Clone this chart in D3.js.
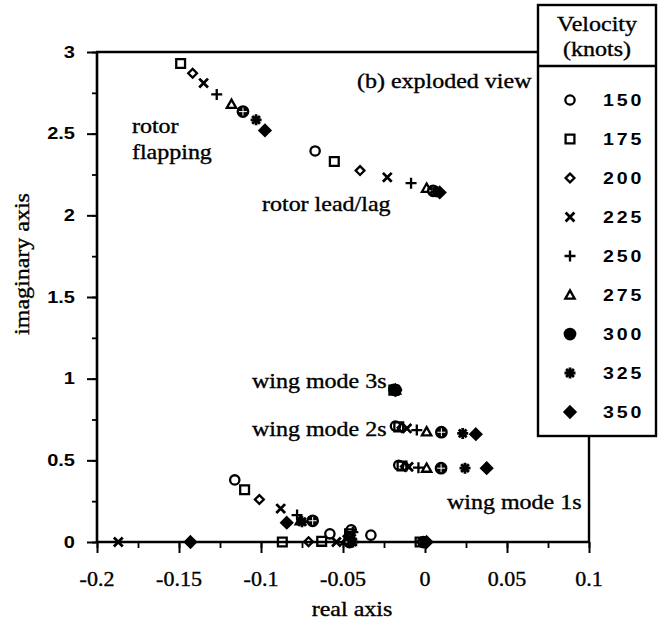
<!DOCTYPE html>
<html><head><meta charset="utf-8">
<script src="https://cdn.jsdelivr.net/npm/d3@7"></script>
<style>body{margin:0;background:#fff}svg{display:block}</style>
</head><body>
<svg id="c" width="661" height="627"></svg>
<script>
// ---- data ----
const velocities = [150,175,200,225,250,275,300,325,350];
const symbolNames = ["circle","square","diamond","x","plus","triangle","dot","asterisk","fdiamond"];
const xTicks = [-0.2,-0.15,-0.1,-0.05,0,0.05,0.1];
const xTickLabels = ["-0.2","-0.15","-0.1","-0.05","0","0.05","0.1"];
const yTicks = [0,0.5,1,1.5,2,2.5,3];
const yTickLabels = ["0","0.5","1","1.5","2","2.5","3"];
// points per velocity: [real, imag]
const v150 = [[-0.067,2.394],[-0.019,0.935],[-0.018,0.71],[-0.016,0.47],[-0.116,0.38],[-0.058,0.05],[-0.033,0.042],[-0.045,0.075]];
const v175 = [[-0.149,2.93],[-0.0553,2.33],[-0.019,0.93],[-0.016,0.705],[-0.014,0.465],[-0.110,0.32],[-0.087,0.0],[-0.063,0.004],[-0.046,0.05],[-0.003,0.0]];
const v200 = [[-0.1417,2.87],[-0.0396,2.274],[-0.018,0.93],[-0.014,0.70],[-0.012,0.462],[-0.101,0.26],[-0.071,0.002],[-0.047,0.035]];
const v225 = [[-0.135,2.81],[-0.023,2.233],[-0.018,0.928],[-0.011,0.695],[-0.010,0.46],[-0.088,0.205],[-0.187,0.0],[-0.054,0.0],[-0.045,0.02]];
const v250 = [[-0.127,2.74],[-0.0085,2.197],[-0.018,0.928],[-0.005,0.685],[-0.004,0.455],[-0.078,0.165],[-0.047,0.0],[-0.044,0.06]];
const v275 = [[-0.118,2.68],[0.001,2.166],[-0.018,0.93],[0.001,0.675],[0.001,0.452],[-0.076,0.13],[-0.048,0.01]];
const v300 = [[-0.111,2.635],[0.005,2.15],[-0.018,0.93],[0.010,0.672],[0.0098,0.452],[-0.0685,0.13],[-0.001,0.0],[-0.046,0.0]];
const v325 = [[-0.103,2.585],[0.007,2.145],[-0.018,0.93],[0.023,0.665],[0.0244,0.452],[-0.075,0.124],[0.0,0.0],[-0.044,0.0]];
const v350 = [[-0.0976,2.52],[0.009,2.14],[-0.018,0.93],[0.031,0.66],[0.0376,0.452],[-0.0843,0.118],[-0.143,0.0],[0.001,0.0]];
const seriesPoints = [v150,v175,v200,v225,v250,v275,v300,v325,v350];
const annotations = [
  {text:"rotor", x:-0.1787, y:2.55},
  {text:"flapping", x:-0.1787, y:2.39},
  {text:"rotor lead/lag", x:-0.0994, y:2.07},
  {text:"(b) exploded view", x:-0.0415, y:2.82},
  {text:"wing mode 3s", x:-0.1055, y:0.985},
  {text:"wing mode 2s", x:-0.1055, y:0.69},
  {text:"wing mode 1s", x:0.0134, y:0.245}
];

// ---- drawing ----
const svg = d3.select("#c");
const x = d3.scaleLinear().domain([-0.2,0.1]).range([97,589]);
const y = d3.scaleLinear().domain([0,3]).range([542,52]);
const SERIF = "'Liberation Serif','Times New Roman',serif";
const SANS = "'Liberation Sans',Arial,sans-serif";

function sym(name, s){
  const p = d3.path();
  const r = s/2;
  switch(name){
    case "circle": p.arc(0,0,r*0.85,0,2*Math.PI); break;
    case "square": p.rect(-r*0.8,-r*0.8,r*1.6,r*1.6); break;
    case "diamond": p.moveTo(0,-r*0.8);p.lineTo(r*0.8,0);p.lineTo(0,r*0.8);p.lineTo(-r*0.8,0);p.closePath(); break;
    case "fdiamond": p.moveTo(0,-r);p.lineTo(r,0);p.lineTo(0,r);p.lineTo(-r,0);p.closePath(); break;
    case "x": p.moveTo(-r*0.8,-r*0.8);p.lineTo(r*0.8,r*0.8);p.moveTo(r*0.8,-r*0.8);p.lineTo(-r*0.8,r*0.8); break;
    case "plus": p.moveTo(-r,0);p.lineTo(r,0);p.moveTo(0,-r);p.lineTo(0,r); break;
    case "triangle": p.moveTo(0,-r*0.85);p.lineTo(r*0.85,r*0.65);p.lineTo(-r*0.85,r*0.65);p.closePath(); break;
    case "dot": p.arc(0,0,r*0.95,0,2*Math.PI); break;
    case "asterisk": for(let i=0;i<4;i++){const a=i*Math.PI/4;p.moveTo(-r*Math.cos(a),-r*Math.sin(a));p.lineTo(r*Math.cos(a),r*Math.sin(a));} break;
  }
  return p.toString();
}
function styleSym(sel, name){
  const filled = (name==="dot"||name==="fdiamond");
  sel.attr("fill", filled?"#000":"none")
     .attr("stroke","#000")
     .attr("stroke-width", name==="asterisk"?2.8:(name==="x"?2.8:2.3))
     .attr("stroke-linejoin","miter");
}
// horizontally stretched text helper
function stext(g, tx, ty, str, opts){
  const t = g.append("text")
    .attr("transform",`translate(${tx},${ty}) scale(${opts.sx||1},1)`)
    .attr("font-family",opts.family).attr("font-size",opts.size)
    .attr("text-anchor",opts.anchor||"start").attr("fill","#000").text(str);
  if(opts.weight) t.attr("font-weight",opts.weight);
  if(opts.ls) t.attr("letter-spacing",opts.ls);
  if(opts.dy) t.attr("dy",opts.dy);
  if(opts.heavy) t.attr("stroke","#000").attr("stroke-width",0.35);
  return t;
}

// x axis ticks
const gx = svg.append("g").attr("transform","translate(0,542)");
gx.call(d3.axisBottom(x).tickValues(d3.range(-0.2,0.1001,0.025)).tickSize(6).tickFormat(""));
gx.selectAll(".tick line").attr("stroke-width",1.8);
const gx2 = svg.append("g").attr("transform","translate(0,542)");
gx2.call(d3.axisBottom(x).tickValues(xTicks).tickSize(11).tickFormat(""));
gx2.selectAll(".tick line").attr("stroke-width",2);
svg.selectAll(".domain").remove();
xTicks.forEach((v,i)=>stext(svg, x(v), 586, xTickLabels[i], {family:SERIF,size:20,sx:1.1,anchor:"middle",heavy:true}));

// y axis ticks
const gy = svg.append("g").attr("transform","translate(97,0)");
gy.call(d3.axisLeft(y).tickValues(d3.range(0,3.001,0.25)).tickSize(5).tickFormat(""));
gy.selectAll(".tick line").attr("stroke-width",1.8);
const gy2 = svg.append("g").attr("transform","translate(97,0)");
gy2.call(d3.axisLeft(y).tickValues(yTicks).tickSize(10).tickFormat(""));
gy2.selectAll(".tick line").attr("stroke-width",2);
svg.selectAll(".domain").remove();
yTicks.forEach((v,i)=>stext(svg, 75, y(v), yTickLabels[i], {family:SANS,size:16,sx:1.25,anchor:"end",weight:"bold",dy:"0.36em"}));

// frame lines
const legendX = 538, legendW = 118, legendTop = 5, legendBottom = 436;
svg.append("line").attr("x1",x(-0.2)).attr("x2",x(0.1)).attr("y1",y(0)).attr("y2",y(0)).attr("stroke","#000").attr("stroke-width",2.6);
svg.append("line").attr("x1",x(-0.2)).attr("x2",x(-0.2)).attr("y1",y(0)).attr("y2",y(3)).attr("stroke","#000").attr("stroke-width",2.6);
svg.append("line").attr("x1",x(-0.2)-1).attr("x2",legendX).attr("y1",y(3)).attr("y2",y(3)).attr("stroke","#000").attr("stroke-width",2.6);
svg.append("line").attr("x1",x(0.1)).attr("x2",x(0.1)).attr("y1",y(0)).attr("y2",legendBottom).attr("stroke","#000").attr("stroke-width",2.4);

// axis titles
stext(svg, 352, 616, "real axis", {family:SERIF,size:20,sx:1.2,anchor:"middle",heavy:true});
svg.append("text").attr("transform","translate(29,264) rotate(-90) scale(1.2,1)").attr("text-anchor","middle")
  .attr("font-family",SERIF).attr("font-size",20).attr("stroke","#000").attr("stroke-width",0.35).text("imaginary axis");

// annotations
annotations.forEach(a=>stext(svg, x(a.x), y(a.y), a.text, {family:SERIF,size:20,sx:1.2,dy:"0.35em",heavy:true}));

// points
seriesPoints.forEach((pts,i)=>{
  const name = symbolNames[i];
  svg.append("g").selectAll("path").data(pts).join("path")
    .attr("transform",d=>`translate(${x(d[0])},${y(d[1])})`)
    .attr("d",sym(name,11))
    .call(styleSym,name);
  if(name==="dot"){
    svg.append("g").selectAll("path").data(pts).join("path")
      .attr("transform",d=>`translate(${x(d[0])},${y(d[1])})`)
      .attr("d","M-4,0H4M0,-4V4").attr("stroke","#fff").attr("stroke-width",1);
  }
});

// legend
const lg = svg.append("g");
lg.append("rect").attr("x",legendX).attr("y",legendTop).attr("width",legendW).attr("height",legendBottom-legendTop)
  .attr("fill","#fff").attr("stroke","#000").attr("stroke-width",2.4);
lg.append("line").attr("x1",legendX).attr("x2",legendX+legendW).attr("y1",66).attr("y2",66).attr("stroke","#000").attr("stroke-width",2.4);
stext(lg, legendX+legendW/2, 31, "Velocity", {family:SERIF,size:20,sx:1.2,anchor:"middle",heavy:true});
stext(lg, legendX+legendW/2, 56, "(knots)", {family:SERIF,size:20,sx:1.2,anchor:"middle",heavy:true});
const ly = d3.scalePoint().domain(velocities).range([100,412]);
velocities.forEach((v,i)=>{
  const name = symbolNames[i];
  lg.append("path").attr("transform",`translate(570,${ly(v)})`).attr("d",sym(name,11)).call(styleSym,name);
  stext(lg, 603, ly(v), String(v), {family:SANS,size:17,sx:1.15,weight:"bold",ls:2.5,dy:"0.36em"});
});
</script>
</body></html>
